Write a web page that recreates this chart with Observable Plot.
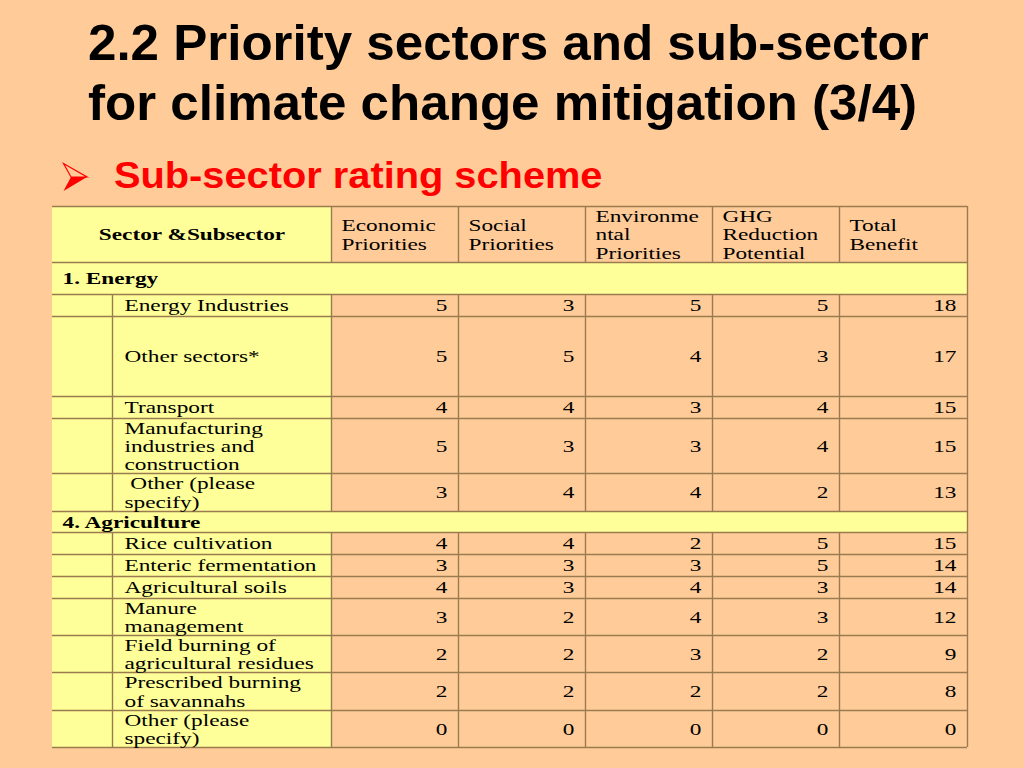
<!DOCTYPE html>
<html>
<head>
<meta charset="utf-8">
<script src="https://cdn.jsdelivr.net/npm/d3@7"></script>
<script src="https://cdn.jsdelivr.net/npm/@observablehq/plot@0.6"></script>
<style>
  html, body { margin: 0; padding: 0; background: #FFCC99; width: 1024px; height: 768px; overflow: hidden; }
  #head { position: relative; height: 200px; }
  #title { position: absolute; left: 88px; top: 13px; font: bold 50px/60px "Liberation Sans", Arial, sans-serif; color: #000; white-space: nowrap; transform: scaleX(1.022); transform-origin: 0 0; }
  #bullet { position: absolute; left: 62px; top: 162px; }
  #sub { position: absolute; left: 114px; top: 157px; font: bold 37px/37px "Liberation Sans", Arial, sans-serif; color: #FF0000; white-space: nowrap; transform: scaleX(1.075); transform-origin: 0 0; }
  #chart svg { display: block; }
</style>
</head>
<body>
<div id="head">
  <div id="title">2.2 Priority sectors and sub-sector<br>for climate change mitigation (3/4)</div>
  <svg id="bullet" width="28" height="32" viewBox="0 0 28 32">
    <polygon points="1.5,1.5 25,15 9,15" fill="none" stroke="#FF0000" stroke-width="1.2" stroke-linejoin="miter"/>
    <polygon points="9,15 25,15 1.5,29" fill="#FF0000"/>
  </svg>
  <div id="sub">Sub-sector rating scheme</div>
</div>
<div id="chart"></div>
<script>
// ---------------- data ----------------
const headerLabel = "Sector &Subsector";
const columns = ["Economic\nPriorities", "Social\nPriorities", "Environme\nntal\nPriorities", "GHG\nReduction\nPotential", "Total\nBenefit"];
const sectors = ["1. Energy", "4. Agriculture"];
const subsectors = [
  "Energy Industries", "Other sectors*", "Transport", "Manufacturing\nindustries and\nconstruction", " Other (please\nspecify)",
  "Rice cultivation", "Enteric fermentation", "Agricultural soils", "Manure\nmanagement",
  "Field burning of\nagricultural residues", "Prescribed burning\nof savannahs", "Other (please\nspecify)"
];
const sectorOf      = [0, 0, 0, 0, 0, 1, 1, 1, 1, 1, 1, 1];
const economic      = [5, 5, 4, 5, 3, 4, 3, 4, 3, 2, 2, 0];
const social        = [3, 5, 4, 3, 4, 4, 3, 3, 2, 2, 2, 0];
const environmental = [5, 4, 3, 3, 4, 2, 3, 4, 4, 3, 2, 0];
const ghg           = [5, 3, 4, 4, 2, 5, 5, 3, 3, 2, 2, 0];
const total         = [18, 17, 15, 15, 13, 15, 14, 14, 12, 9, 8, 0];

// ---------------- layout (positions / sizes) ----------------
const L = {
  left: 52, top: 6, indentW: 60, nameW: 219, colW: [127, 127, 127, 127, 128],
  headerH: 56, sectorH: [32, 21],
  subH: [22, 80, 22, 55, 38, 22, 22, 22, 37, 37, 38, 37],
  padL: 10, padR: 11, subPad: 12
};
const yellow = "#FFFF99", peach = "#FFCC99", line = "#9A7B4F";
const FONT = "Liberation Serif, Times New Roman, serif";
const SX = 1.37;

const valueCols = [economic, social, environmental, ghg, total];
const xIndent = L.left + L.indentW;
const xName = xIndent + L.nameW;
const colEdges = [xName];
L.colW.forEach(w => colEdges.push(colEdges[colEdges.length - 1] + w));
const right = colEdges[colEdges.length - 1];

// build rows
const rows = [];
let y = L.top;
rows.push({kind: "header", y1: y, y2: y + L.headerH}); y += L.headerH;
sectors.forEach((s, si) => {
  rows.push({kind: "sector", label: s, y1: y, y2: y + L.sectorH[si]}); y += L.sectorH[si];
  subsectors.forEach((name, i) => {
    if (sectorOf[i] !== si) return;
    rows.push({kind: "sub", label: name, i, y1: y, y2: y + L.subH[i]}); y += L.subH[i];
  });
});
const bottom = y;

const yellowCells = [], peachCells = [], hLines = [], vLines = [];
const headerText = [], colHeadText = [], sectorText = [], subText = [], valueText = [];
rows.forEach(r => {
  const ym = (r.y1 + r.y2) / 2;
  hLines.push({y: r.y1});
  if (r.kind === "header") {
    yellowCells.push({x1: L.left, x2: xName, y1: r.y1, y2: r.y2});
    headerText.push({x: (L.left + xName) / 2, y: ym, t: headerLabel});
    columns.forEach((c, k) => {
      peachCells.push({x1: colEdges[k], x2: colEdges[k + 1], y1: r.y1, y2: r.y2});
      colHeadText.push({x: colEdges[k] + L.padL, y: ym, t: c});
    });
    colEdges.forEach(x => vLines.push({x, y1: r.y1, y2: r.y2}));
  } else if (r.kind === "sector") {
    yellowCells.push({x1: L.left, x2: right, y1: r.y1, y2: r.y2});
    sectorText.push({x: L.left + L.padL, y: ym, t: r.label});
    vLines.push({x: right, y1: r.y1, y2: r.y2});
  } else {
    yellowCells.push({x1: L.left, x2: xName, y1: r.y1, y2: r.y2});
    subText.push({x: xIndent + L.subPad, y: ym, t: r.label});
    valueCols.forEach((vals, k) => {
      peachCells.push({x1: colEdges[k], x2: colEdges[k + 1], y1: r.y1, y2: r.y2});
      valueText.push({x: colEdges[k + 1] - L.padR, y: ym, t: String(vals[r.i])});
    });
    [xIndent, ...colEdges].forEach(x => vLines.push({x, y1: r.y1, y2: r.y2}));
  }
});
hLines.push({y: bottom});

const H = 568;
const textOpts = {x: "x", y: "y", text: "t", fontSize: 17, fontFamily: FONT, lineAnchor: "middle", lineHeight: 1.08, fill: "#000"};

const plot = Plot.plot({
  width: 1024, height: H, margin: 0,
  x: {domain: [0, 1024], range: [0, 1024], axis: null},
  y: {domain: [0, H], range: [0, H], axis: null},
  style: {background: "transparent", overflow: "visible"},
  marks: [
    Plot.rect(yellowCells, {x1: "x1", x2: "x2", y1: "y1", y2: "y2", fill: yellow}),
    Plot.rect(peachCells, {x1: "x1", x2: "x2", y1: "y1", y2: "y2", fill: peach}),
    Plot.ruleY(hLines, {y: "y", x1: L.left, x2: right, stroke: line, strokeWidth: 1.4}),
    Plot.ruleX(vLines, {x: "x", y1: "y1", y2: "y2", stroke: line, strokeWidth: 1.4}),
    Plot.text(headerText, {...textOpts, textAnchor: "middle", fontWeight: "bold"}),
    Plot.text(colHeadText, {...textOpts, textAnchor: "start"}),
    Plot.text(sectorText, {...textOpts, textAnchor: "start", fontWeight: "bold"}),
    Plot.text(subText, {...textOpts, textAnchor: "start"}),
    Plot.text(valueText, {...textOpts, textAnchor: "end"})
  ]
});
document.getElementById("chart").appendChild(plot);

// widen table glyphs horizontally like the original slide
plot.querySelectorAll('g[aria-label="text"] text').forEach(t => {
  const tr = t.getAttribute("transform");
  if (tr) {
    t.setAttribute("transform", tr + ` scale(${SX},1)`);
  } else {
    const x = +t.getAttribute("x") || 0, yy = +t.getAttribute("y") || 0;
    t.setAttribute("x", 0); t.setAttribute("y", 0);
    t.setAttribute("transform", `translate(${x},${yy}) scale(${SX},1)`);
  }
});
</script>
</body>
</html>
